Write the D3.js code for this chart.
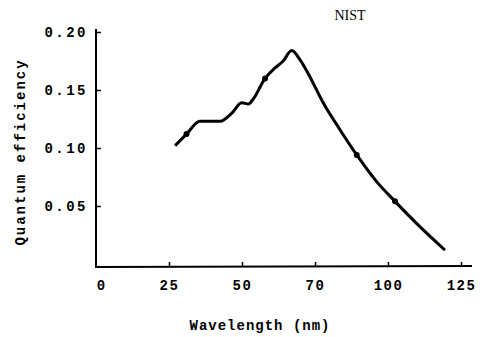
<!DOCTYPE html>
<html><head><meta charset="utf-8">
<script src="https://cdn.jsdelivr.net/npm/d3@7"></script>
<style>body{margin:0;background:#fff}svg{display:block}</style>
</head><body>
<svg id="c" width="480" height="337"></svg>
<script>
const wavelength = [27.1,31,35.6,42.5,46.5,49.9,52.2,53.8,57.9,61.3,64.1,67,69.9,72.7,77.8,83.5,89.3,96.1,102.4,111,119.5];
const efficiency = [0.102,0.112,0.123,0.123,0.130,0.139,0.138,0.142,0.160,0.169,0.175,0.184,0.176,0.164,0.139,0.116,0.094,0.071,0.054,0.032,0.012];
const markerX = [31,57.9,89.3,102.4];
const markerY = [0.112,0.160,0.094,0.054];
const xTickValues = [0,25,50,75,100,125];
const xTickLabels = ["0","25","50","70","100","125"];
const yTickValues = [0.05,0.10,0.15,0.20];
const yTickLabels = ["0.05","0.10","0.15","0.20"];

const svg = d3.select("#c");
const x = d3.scaleLinear().domain([0,125]).range([96,461]);
const y = d3.scaleLinear().domain([0,0.20]).range([264,32]);

const g = svg.append("g");
g.append("line").attr("x1",96).attr("x2",96).attr("y1",29).attr("y2",267).attr("stroke","#000").attr("stroke-width",2);
g.append("line").attr("x1",95).attr("x2",472).attr("y1",267).attr("y2",266).attr("stroke","#000").attr("stroke-width",2);

const font = sel => sel.style("font-family","Liberation Mono, monospace").style("font-size","14px").style("font-weight","bold");

const xa = svg.append("g").attr("transform","translate(0,267)")
  .call(d3.axisBottom(x).tickValues(xTickValues.slice(1)).tickSize(-5).tickFormat((d,i)=>xTickLabels[i+1]));
xa.select(".domain").remove();
xa.selectAll("line").attr("stroke-width",1.5);
xa.selectAll("text").attr("dy","1.05em").attr("y",8).call(font).style("letter-spacing","1.5px");
svg.append("text").attr("x",x(0)+5).attr("y",290).attr("text-anchor","middle").call(font).text(xTickLabels[0]);

const ya = svg.append("g").attr("transform","translate(96,0)")
  .call(d3.axisLeft(y).tickValues(yTickValues).tickSize(-5).tickFormat((d,i)=>yTickLabels[i]));
ya.select(".domain").remove();
ya.selectAll("line").attr("stroke-width",1.5);
ya.selectAll("text").attr("x",-8).call(font).style("letter-spacing","2.5px");

const line = d3.line().x((d,i)=>x(wavelength[i])).y((d,i)=>y(efficiency[i])).curve(d3.curveMonotoneX);
svg.append("path").datum(efficiency).attr("d",line).attr("fill","none").attr("stroke","#000").attr("stroke-width",3).attr("stroke-linejoin","round");
svg.selectAll("circle.m").data(markerX).enter().append("circle")
  .attr("cx",(d)=>x(d)).attr("cy",(d,i)=>y(markerY[i])).attr("r",3).attr("fill","#000");

svg.append("text").attr("x",350).attr("y",20).attr("text-anchor","middle")
  .style("font-family","Liberation Serif, serif").style("font-size","14px").text("NIST");

svg.append("text").attr("transform","translate(25,152) rotate(-90)").attr("text-anchor","middle")
  .call(font).style("letter-spacing","2px").text("Quantum efficiency");
svg.append("text").attr("x",260).attr("y",330).attr("text-anchor","middle")
  .call(font).style("letter-spacing","1px").text("Wavelength (nm)");
</script>
</body></html>
